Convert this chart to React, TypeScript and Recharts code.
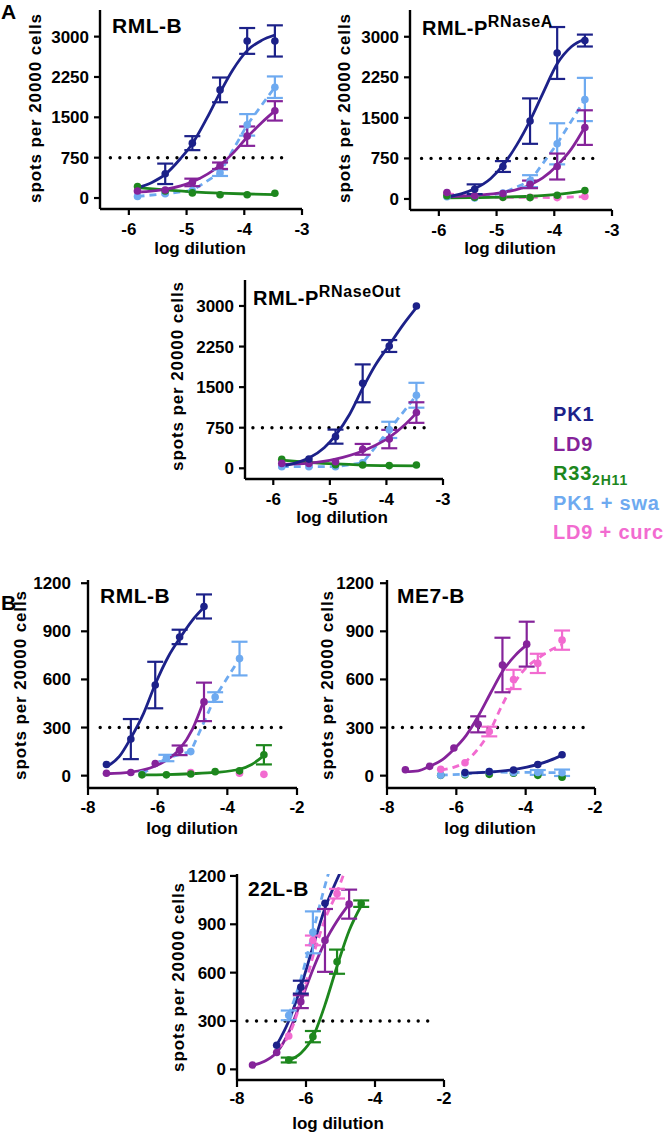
import React from "react";
import {
  ComposedChart,
  ErrorBar,
  Line,
  ReferenceLine,
  Scatter,
  XAxis,
  YAxis,
} from "recharts";

const FONT = '"Liberation Sans", Arial, Helvetica, sans-serif';

const PK1 = "#1c2189";
const LD9 = "#85239a";
const R33 = "#1d871d";
const SWA = "#6eaaf0";
const CURC = "#f26bd0";

// axis ticks
const A_X_TICKS = [-6, -5, -4, -3];
const A_Y_TICKS = [0, 750, 1500, 2250, 3000];
const B_X_TICKS = [-8, -6, -4, -2];
const B_Y_TICKS = [0, 300, 600, 900, 1200];

// points are [log dilution, spots, error], fits are [log dilution, spots]
// --- A: RML-B
const a1Pk1 = [[-5.37, 450, 190], [-4.9, 1020, 130], [-4.42, 2010, 230], [-3.95, 2920, 240], [-3.47, 2920, 290]];
const a1Pk1Fit = [[-5.85, 190], [-5.6, 290], [-5.37, 440], [-5.1, 740], [-4.9, 1010], [-4.65, 1480], [-4.42, 1960], [-4.2, 2380], [-3.95, 2740], [-3.7, 2930], [-3.47, 3030]];
const a1Ld9 = [[-5.85, 130, 0], [-5.37, 150, 0], [-4.9, 290, 70], [-4.42, 600, 60], [-3.95, 1150, 180], [-3.47, 1620, 180]];
const a1Ld9Fit = [[-5.85, 110], [-5.37, 160], [-4.9, 300], [-4.42, 610], [-4.2, 830], [-3.95, 1130], [-3.7, 1400], [-3.47, 1620]];
const a1Swa = [[-5.85, 30, 0], [-5.37, 80, 0], [-4.9, 140, 0], [-4.42, 470, 60], [-3.95, 1360, 200], [-3.47, 2060, 200]];
const a1R33 = [[-5.85, 215, 0], [-5.37, 130, 0], [-4.9, 95, 0], [-4.42, 60, 0], [-3.95, 60, 0], [-3.47, 90, 0]];
const a1R33Fit = [[-5.85, 195], [-5.37, 150], [-4.9, 115], [-4.42, 90], [-3.95, 75], [-3.47, 65]];
const a1Curc = [[-5.85, 130, 0]];

// --- A: RML-P RNaseA
const a2Pk1 = [[-5.38, 180, 90], [-4.89, 600, 100], [-4.42, 1440, 420], [-3.95, 2700, 480], [-3.47, 2930, 110]];
const a2Pk1Fit = [[-5.86, 40], [-5.6, 100], [-5.38, 190], [-5.1, 380], [-4.89, 620], [-4.65, 1000], [-4.42, 1450], [-4.2, 1950], [-3.95, 2500], [-3.7, 2820], [-3.47, 2960]];
const a2Ld9 = [[-5.86, 120, 0], [-5.38, 60, 0], [-4.89, 100, 0], [-4.42, 270, 70], [-3.95, 600, 240], [-3.47, 1320, 320]];
const a2Ld9Fit = [[-5.86, 40], [-5.38, 65], [-4.89, 120], [-4.42, 260], [-4.2, 390], [-3.95, 620], [-3.7, 930], [-3.47, 1330]];
const a2Swa = [[-5.86, 40, 0], [-5.38, 20, 0], [-4.89, 110, 0], [-4.42, 330, 110], [-3.95, 1020, 380], [-3.47, 1840, 400]];
const a2R33 = [[-5.86, 60, 0], [-5.38, 30, 0], [-4.89, 30, 0], [-4.42, 25, 0], [-3.95, 70, 0], [-3.47, 155, 0]];
const a2R33Fit = [[-5.86, 20], [-5.38, 25], [-4.89, 35], [-4.42, 50], [-3.95, 85], [-3.47, 150]];
const a2Curc = [[-5.86, 100, 0], [-5.38, 40, 0], [-4.89, 30, 0], [-4.42, 30, 0], [-3.95, 25, 0], [-3.47, 45, 0]];

// --- A: RML-P RNaseOut
const a3Pk1 = [[-5.37, 170, 0], [-4.9, 585, 130], [-4.42, 1570, 350], [-3.95, 2260, 110], [-3.47, 3000, 0]];
const a3Pk1Fit = [[-5.85, 40], [-5.6, 100], [-5.37, 190], [-5.1, 380], [-4.9, 610], [-4.65, 1000], [-4.42, 1480], [-4.2, 1900], [-3.95, 2280], [-3.7, 2660], [-3.47, 2970]];
const a3Ld9 = [[-5.85, 90, 0], [-5.37, 90, 0], [-4.9, 120, 0], [-4.42, 350, 100], [-3.95, 540, 170], [-3.47, 1030, 190]];
const a3Ld9Fit = [[-5.85, 70], [-5.37, 95], [-4.9, 170], [-4.42, 320], [-4.2, 420], [-3.95, 570], [-3.7, 780], [-3.47, 1020]];
const a3Swa = [[-5.85, 30, 0], [-5.37, 30, 0], [-4.9, 30, 0], [-4.42, 100, 0], [-3.95, 710, 150], [-3.47, 1350, 230]];
const a3R33 = [[-5.85, 165, 0], [-5.37, 105, 0], [-4.9, 65, 0], [-4.42, 60, 0], [-3.95, 50, 0], [-3.47, 60, 0]];
const a3R33Fit = [[-5.85, 150], [-5.37, 110], [-4.9, 80], [-4.42, 60], [-3.95, 50], [-3.47, 45]];

// --- B: RML-B
const b1Pk1 = [[-7.47, 70, 0], [-6.77, 228, 125], [-6.07, 565, 145], [-5.37, 865, 45], [-4.67, 1055, 75]];
const b1Pk1Fit = [[-7.47, 55], [-7.1, 120], [-6.77, 235], [-6.4, 390], [-6.07, 570], [-5.7, 740], [-5.37, 855], [-5.0, 970], [-4.67, 1050]];
const b1Ld9 = [[-7.47, 15, 0], [-6.77, 20, 0], [-6.07, 75, 0], [-5.37, 158, 30], [-4.67, 460, 120]];
const b1Ld9Fit = [[-7.47, 12], [-6.77, 22], [-6.07, 60], [-5.72, 100], [-5.37, 165], [-5.0, 290], [-4.67, 470]];
const b1Swa = [[-6.45, 10, 0], [-5.75, 110, 20], [-5.05, 150, 0], [-4.35, 490, 30], [-3.65, 730, 105]];
const b1R33 = [[-6.45, 5, 0], [-5.75, 5, 0], [-5.05, 10, 0], [-4.35, 25, 0], [-3.65, 30, 0], [-2.95, 130, 60]];
const b1R33Fit = [[-6.45, 5], [-5.75, 7], [-5.05, 12], [-4.35, 20], [-3.65, 40], [-3.3, 70], [-2.95, 125]];
const b1Curc = [[-5.05, 20, 0], [-3.65, 15, 0], [-2.95, 8, 0]];

// --- B: ME7-B
const b2Ld9 = [[-7.47, 37, 0], [-6.77, 58, 0], [-6.07, 172, 0], [-5.37, 320, 50], [-4.67, 690, 170], [-3.97, 820, 140]];
const b2Ld9Fit = [[-7.47, 25], [-7.1, 30], [-6.77, 58], [-6.4, 100], [-6.07, 165], [-5.72, 250], [-5.37, 370], [-5.0, 520], [-4.67, 650], [-4.3, 750], [-3.97, 815]];
const b2Curc = [[-6.45, 40, 0], [-5.75, 80, 0], [-5.05, 275, 30], [-4.35, 600, 60], [-3.65, 700, 60], [-2.95, 845, 60]];
const b2CurcFit = [[-6.45, 35], [-6.1, 50], [-5.75, 85], [-5.4, 160], [-5.05, 270], [-4.7, 430], [-4.35, 570], [-4.0, 670], [-3.65, 730], [-3.3, 780], [-2.95, 815]];
const b2Pk1 = [[-5.75, 20, 0], [-5.05, 25, 0], [-4.35, 35, 0], [-3.65, 70, 0], [-2.95, 130, 0]];
const b2Pk1Fit = [[-5.75, 15], [-5.05, 22], [-4.35, 38], [-3.65, 70], [-3.3, 95], [-2.95, 128]];
const b2Swa = [[-6.45, 3, 0], [-5.75, 10, 0], [-5.05, 25, 0], [-4.35, 20, 0], [-3.65, 20, 15], [-2.95, 18, 20]];
const b2R33 = [[-6.45, 2, 0], [-5.75, 5, 0], [-5.05, 8, 0], [-4.35, 15, 0], [-3.65, 2, 0], [-2.95, -10, 0]];

// --- B: 22L-B
const b3Ld9 = [[-7.55, 27, 0], [-6.85, 105, 0], [-6.15, 420, 40], [-5.45, 800, 195], [-4.75, 1025, 90]];
const b3Ld9Fit = [[-7.55, 25], [-7.2, 50], [-6.85, 105], [-6.5, 230], [-6.15, 420], [-5.8, 620], [-5.45, 790], [-5.1, 920], [-4.75, 1025]];
const b3Pk1 = [[-6.85, 150, 0], [-6.15, 510, 40], [-5.45, 1030, 0]];
const b3Pk1Fit = [[-6.85, 150], [-6.5, 300], [-6.15, 510], [-5.8, 760], [-5.45, 1000], [-5.2, 1130], [-5.0, 1225]];
const b3Swa = [[-6.5, 335, 30], [-5.8, 850, 130]];
const b3SwaFit = [[-6.5, 335], [-6.15, 560], [-5.8, 850], [-5.5, 1100], [-5.35, 1215]];
const b3Curc = [[-6.5, 207, 0], [-5.8, 800, 30], [-5.1, 1090, 30]];
const b3CurcFit = [[-6.85, 130], [-6.5, 210], [-6.15, 420], [-5.8, 700], [-5.45, 930], [-5.1, 1100], [-4.9, 1215]];
const b3R33 = [[-6.5, 58, 15], [-5.8, 203, 35], [-5.1, 668, 75], [-4.4, 1028, 20]];
const b3R33Fit = [[-6.5, 55], [-6.15, 100], [-5.8, 200], [-5.45, 400], [-5.1, 640], [-4.75, 860], [-4.4, 1015]];

const LEGEND = [
  { label: "PK1", color: PK1 },
  { label: "LD9", color: LD9 },
  { label: "R33", sub: "2H11", color: R33 },
  { label: "PK1 + swa", color: SWA },
  { label: "LD9 + curc", color: CURC },
];

const toPts = (rows: number[][]) =>
  rows.map(([x, y, e]) => ({ x, y, err: e ? e : undefined }));
const toFit = (rows: number[][]) => rows.map(([x, y]) => ({ x, y }));

type Series = {
  color: string;
  pts: number[][];
  fit?: number[][];
  dashed?: boolean;
  linear?: boolean;
};

type Box = { left: number; top: number; w: number; h: number };

const YW = 70;
const MT = 6;
const MR = 18;
const XH = 40;

const TICK = { fill: "#000", fontSize: 17, fontWeight: 700, fontFamily: FONT };

function Panel({
  box,
  xDomain,
  yDomain,
  xTicks,
  yTicks,
  ref750,
  series,
  tickSize,
  xMargin,
  yMargin,
}: {
  box: Box;
  xDomain: [number, number];
  yDomain: [number, number];
  xTicks: number[];
  yTicks: number[];
  ref750: [number, number, number];
  series: Series[];
  tickSize: number;
  xMargin: number;
  yMargin: number;
}) {
  const [rx1, rx2, ry] = ref750;
  return (
    <div style={{ position: "absolute", left: box.left - YW, top: box.top - MT }}>
      <ComposedChart
        width={box.w + YW + MR}
        height={box.h + MT + XH}
        margin={{ top: MT, right: MR, bottom: 0, left: 0 }}
      >
        <XAxis
          type="number"
          dataKey="x"
          domain={xDomain}
          ticks={xTicks}
          interval={0}
          allowDataOverflow
          height={XH}
          axisLine={{ stroke: "#000", strokeWidth: 2.4 }}
          tickLine={{ stroke: "#000", strokeWidth: 2.2 }}
          tickSize={tickSize}
          tickMargin={xMargin}
          tick={TICK}
        />
        <YAxis
          type="number"
          dataKey="y"
          domain={yDomain}
          ticks={yTicks}
          interval={0}
          allowDataOverflow
          width={YW}
          axisLine={{ stroke: "#000", strokeWidth: 2.4 }}
          tickLine={{ stroke: "#000", strokeWidth: 2.2 }}
          tickSize={tickSize}
          tickMargin={yMargin}
          tick={TICK}
        />
        <ReferenceLine
          segment={[
            { x: rx1, y: ry },
            { x: rx2, y: ry },
          ]}
          stroke="#000"
          strokeWidth={3.4}
          strokeDasharray="0.01 9.5"
          strokeLinecap="round"
        />
        {series.map((s, i) =>
          s.fit ? (
            <Line
              key={"l" + i}
              data={toFit(s.fit)}
              dataKey="y"
              type={s.linear ? "linear" : "monotone"}
              stroke={s.color}
              strokeWidth={2.8}
              strokeDasharray={s.dashed ? "7 5" : undefined}
              dot={false}
              activeDot={false}
              isAnimationActive={false}
            />
          ) : null
        )}
        {series.map((s, i) => (
          <Scatter
            key={"s" + i}
            data={toPts(s.pts)}
            dataKey="y"
            isAnimationActive={false}
            shape={(p: any) => <circle cx={p.cx} cy={p.cy} r={3.8} fill={s.color} />}
          >
            <ErrorBar dataKey="err" direction="y" width={8} stroke={s.color} strokeWidth={2.2} />
          </Scatter>
        ))}
      </ComposedChart>
    </div>
  );
}

function Text({
  x,
  y,
  size,
  color = "#000",
  mode = "left",
  spacing = 0,
  children,
}: {
  x: number;
  y: number;
  size: number;
  color?: string;
  mode?: "left" | "center" | "rotate";
  spacing?: number;
  children: React.ReactNode;
}) {
  const transform =
    mode === "rotate"
      ? "translate(-50%,-50%) rotate(-90deg)"
      : mode === "center"
        ? "translate(-50%,-50%)"
        : "translateY(-50%)";
  return (
    <div
      style={{
        position: "absolute",
        left: x,
        top: y,
        transform,
        fontSize: size,
        fontWeight: 700,
        color,
        lineHeight: 1,
        whiteSpace: "nowrap",
        letterSpacing: spacing,
        fontFamily: FONT,
      }}
    >
      {children}
    </div>
  );
}

const Sup = ({ children }: { children: React.ReactNode }) => (
  <span style={{ fontSize: 16, verticalAlign: "top", position: "relative", top: -4, letterSpacing: 0.6 }}>
    {children}
  </span>
);

const Y_LABEL = "spots per 20000 cells";
const X_LABEL = "log dilution";

export default function App() {
  const A_Y: [number, number] = [-204, 3495];
  const A_X: [number, number] = [-6.5, -3];
  const B_X: [number, number] = [-8, -2];

  return (
    <div
      style={{
        position: "absolute",
        left: 0,
        top: 0,
        width: 666,
        height: 1134,
        background: "#fff",
        fontFamily: FONT,
        overflow: "hidden",
      }}
    >
      <Panel
        box={{ left: 100, top: 10, w: 202, h: 199 }}
        xDomain={A_X}
        yDomain={A_Y}
        xTicks={A_X_TICKS}
        yTicks={A_Y_TICKS}
        ref750={[-6.32, -3.19, 750]}
        tickSize={6}
        xMargin={8}
        yMargin={5}
        series={[
          { color: CURC, pts: a1Curc },
          { color: SWA, pts: a1Swa, fit: a1Swa, dashed: true, linear: true },
          { color: R33, pts: a1R33, fit: a1R33Fit },
          { color: LD9, pts: a1Ld9, fit: a1Ld9Fit },
          { color: PK1, pts: a1Pk1, fit: a1Pk1Fit },
        ]}
      />
      <Panel
        box={{ left: 410, top: 10, w: 202, h: 200 }}
        xDomain={A_X}
        yDomain={A_Y}
        xTicks={A_X_TICKS}
        yTicks={A_Y_TICKS}
        ref750={[-6.3, -3.17, 750]}
        tickSize={6}
        xMargin={8}
        yMargin={5}
        series={[
          { color: CURC, pts: a2Curc, fit: a2Curc, dashed: true, linear: true },
          { color: SWA, pts: a2Swa, fit: a2Swa, dashed: true, linear: true },
          { color: R33, pts: a2R33, fit: a2R33Fit },
          { color: LD9, pts: a2Ld9, fit: a2Ld9Fit },
          { color: PK1, pts: a2Pk1, fit: a2Pk1Fit },
        ]}
      />
      <Panel
        box={{ left: 245, top: 280, w: 198, h: 199 }}
        xDomain={A_X}
        yDomain={[-198, 3480]}
        xTicks={A_X_TICKS}
        yTicks={A_Y_TICKS}
        ref750={[-6.36, -3.18, 750]}
        tickSize={6}
        xMargin={8}
        yMargin={5}
        series={[
          { color: SWA, pts: a3Swa, fit: a3Swa, dashed: true, linear: true },
          { color: R33, pts: a3R33, fit: a3R33Fit },
          { color: LD9, pts: a3Ld9, fit: a3Ld9Fit },
          { color: PK1, pts: a3Pk1, fit: a3Pk1Fit },
        ]}
      />
      <Panel
        box={{ left: 88, top: 580, w: 209, h: 208 }}
        xDomain={B_X}
        yDomain={[-77, 1220]}
        xTicks={B_X_TICKS}
        yTicks={B_Y_TICKS}
        ref750={[-7.65, -2.21, 300]}
        tickSize={7}
        xMargin={6}
        yMargin={10}
        series={[
          { color: CURC, pts: b1Curc },
          { color: SWA, pts: b1Swa, fit: b1Swa, dashed: true, linear: true },
          { color: R33, pts: b1R33, fit: b1R33Fit },
          { color: LD9, pts: b1Ld9, fit: b1Ld9Fit },
          { color: PK1, pts: b1Pk1, fit: b1Pk1Fit },
        ]}
      />
      <Panel
        box={{ left: 387, top: 580, w: 208, h: 208 }}
        xDomain={B_X}
        yDomain={[-77, 1220]}
        xTicks={B_X_TICKS}
        yTicks={B_Y_TICKS}
        ref750={[-7.83, -2.2, 300]}
        tickSize={7}
        xMargin={6}
        yMargin={6}
        series={[
          { color: R33, pts: b2R33 },
          { color: SWA, pts: b2Swa, fit: b2Swa, dashed: true, linear: true },
          { color: PK1, pts: b2Pk1, fit: b2Pk1Fit },
          { color: CURC, pts: b2Curc, fit: b2CurcFit, dashed: true },
          { color: LD9, pts: b2Ld9, fit: b2Ld9Fit },
        ]}
      />
      <Panel
        box={{ left: 237, top: 874, w: 207, h: 206 }}
        xDomain={B_X}
        yDomain={[-66, 1212]}
        xTicks={B_X_TICKS}
        yTicks={B_Y_TICKS}
        ref750={[-7.71, -2.46, 300]}
        tickSize={7}
        xMargin={5}
        yMargin={4}
        series={[
          { color: R33, pts: b3R33, fit: b3R33Fit },
          { color: LD9, pts: b3Ld9, fit: b3Ld9Fit },
          { color: CURC, pts: b3Curc, fit: b3CurcFit, dashed: true },
          { color: PK1, pts: b3Pk1, fit: b3Pk1Fit },
          { color: SWA, pts: b3Swa, fit: b3SwaFit, dashed: true },
        ]}
      />

      {/* panel letters */}
      <Text x={1} y={11} size={21}>A</Text>
      <Text x={1} y={602} size={21}>B</Text>

      {/* titles */}
      <Text x={112} y={25} size={21} spacing={0.5}>RML-B</Text>
      <Text x={422} y={28} size={20} spacing={0.5}>
        RML-P<Sup>RNaseA</Sup>
      </Text>
      <Text x={253} y={298} size={20} spacing={0.5}>
        RML-P<Sup>RNaseOut</Sup>
      </Text>
      <Text x={100} y={595} size={21} spacing={0.5}>RML-B</Text>
      <Text x={397} y={595} size={21} spacing={0.5}>ME7-B</Text>
      <Text x={248} y={888} size={21} spacing={0.5}>22L-B</Text>

      {/* axis titles */}
      <Text x={35} y={108} size={17} mode="rotate" spacing={0.9}>{Y_LABEL}</Text>
      <Text x={344} y={108} size={17} mode="rotate" spacing={0.9}>{Y_LABEL}</Text>
      <Text x={177} y={376} size={17} mode="rotate" spacing={0.9}>{Y_LABEL}</Text>
      <Text x={20} y={685} size={17} mode="rotate" spacing={0.9}>{Y_LABEL}</Text>
      <Text x={327} y={685} size={17} mode="rotate" spacing={0.9}>{Y_LABEL}</Text>
      <Text x={178} y={977} size={17} mode="rotate" spacing={0.9}>{Y_LABEL}</Text>

      <Text x={200} y={248} size={17} mode="center">{X_LABEL}</Text>
      <Text x={510} y={248} size={17} mode="center">{X_LABEL}</Text>
      <Text x={342} y={517} size={17} mode="center">{X_LABEL}</Text>
      <Text x={192} y={828} size={17} mode="center">{X_LABEL}</Text>
      <Text x={490} y={828} size={17} mode="center">{X_LABEL}</Text>
      <Text x={338} y={1123} size={17} mode="center">{X_LABEL}</Text>

      {/* legend */}
      {LEGEND.map((l, i) => (
        <Text key={l.label} x={553} y={414 + i * 29.5} size={20} color={l.color} spacing={0.8}>
          {l.label}
          {l.sub ? (
            <span style={{ fontSize: 14, position: "relative", top: 5 }}>{l.sub}</span>
          ) : null}
        </Text>
      ))}
    </div>
  );
}
